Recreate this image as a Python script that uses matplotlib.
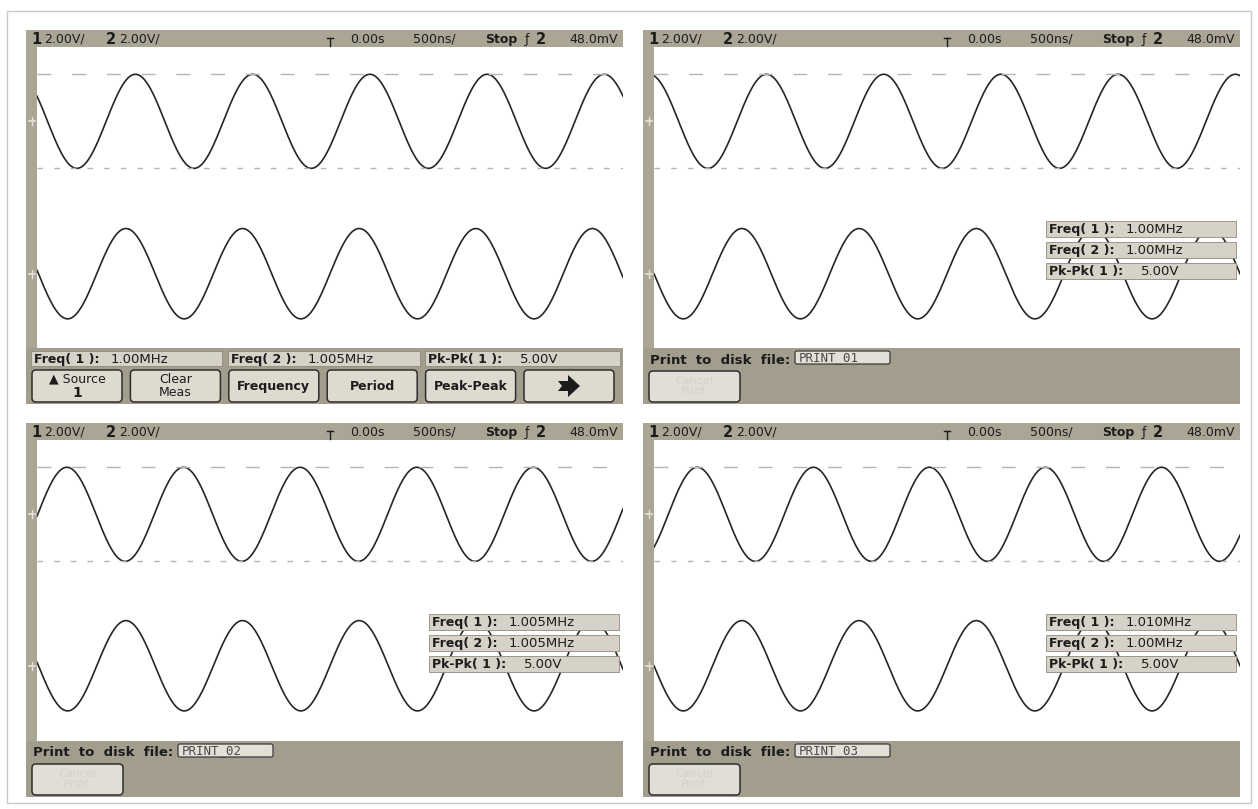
"""Four Agilent-style scope screenshots: two 1 MHz sines, ch1 vs ch2."""

import matplotlib

matplotlib.use("Agg")
import matplotlib.pyplot as plt
import numpy as np
from matplotlib.patches import FancyBboxPatch, Polygon, Rectangle

# --- data read from the four screens (top-left, top-right, bottom-left, bottom-right) ---
CH1_FREQ_MHZ = [1.00, 1.00, 1.005, 1.010]
CH2_FREQ_MHZ = [1.005, 1.00, 1.005, 1.00]
CH1_FREQ_LABELS = ["1.00MHz", "1.00MHz", "1.005MHz", "1.010MHz"]
CH2_FREQ_LABELS = ["1.005MHz", "1.00MHz", "1.005MHz", "1.00MHz"]
CH1_PKPK_LABELS = ["5.00V", "5.00V", "5.00V", "5.00V"]
CH1_PKPK_V = [5.00, 5.00, 5.00, 5.00]
CH2_PKPK_V = [4.8, 4.8, 4.8, 4.8]
CH1_PEAK_US = [0.34, 0.46, 0.74, 0.84]      # a ch1 maximum, relative to the trigger
CH1_OFFSET_V = [4.05, 4.05, 4.05, 4.05]
CH2_OFFSET_V = [-4.05, -4.05, -4.0, -4.0]
PRINT_FILES = [None, "PRINT_01", "PRINT_02", "PRINT_03"]
SOFTKEYS = ["Source", "Clear\nMeas", "Frequency", "Period", "Peak-Peak", ""]

VOLTS_PER_DIV = 2.0
TIME_PER_DIV_US = 0.5
HEADER_TEXT = ["1", "2.00V/", "2", "2.00V/", "0.00s", "500ns/", "Stop", "ƒ", "2", "48.0mV"]

# --- layout (pixels) ---
W, H = 1258, 809
PANEL_ORIGINS = [(26, 30), (643, 30), (26, 423), (643, 423)]
PANEL_W = 597
HEAD_H = 17
STRIP_W = 11
PLOT_H = 301
BOTTOM_H = 56

HEADER_X = [5, 18, 80, 93, 324, 387, 459, 499, 510, 543]
HEADER_BOLD = [True, False, True, False, False, False, True, False, True, False]

C_BAR = "#aba595"
C_BAR_DARK = "#a39d8e"
C_BOX = "#d6d2c7"
C_KEY = "#dedad0"
C_TEXT = "#1c1c1c"
C_TRACE = "#262626"
C_DASH = "#b4b4b4"
FONT = "DejaVu Sans"


def key(ax, x0, y0, w, h, face=C_KEY):
    ax.add_patch(
        FancyBboxPatch(
            (x0, y0), w, h,
            boxstyle="round,pad=0,rounding_size=4",
            facecolor=face, edgecolor="#2e2e2e", linewidth=1.1, zorder=3,
        )
    )


def label(ax, x, y, s, size=9, bold=False, **kw):
    ax.text(
        x, y, s, fontsize=size, fontweight="bold" if bold else "normal",
        color=kw.pop("color", C_TEXT), family=kw.pop("family", FONT),
        va=kw.pop("va", "center"), ha=kw.pop("ha", "left"), zorder=5, **kw,
    )


def meas_box(ax, x0, y0, w, h, name, chan, value):
    ax.add_patch(Rectangle((x0, y0), w, h, facecolor=C_BOX, edgecolor="#8f8a7e",
                           linewidth=0.6, zorder=4))
    label(ax, x0 + 3, y0 + h / 2 + 0.5, f"{name}( {chan} ):", bold=True)
    shift = 95 if name.startswith("Pk") else 80
    label(ax, x0 + shift, y0 + h / 2 + 0.5, value, size=9.5)


def draw_panel(fig, bg, over, i):
    ox, oy = PANEL_ORIGINS[i]

    # frame chrome
    bg.add_patch(Rectangle((ox, oy), PANEL_W, HEAD_H, facecolor=C_BAR, edgecolor="none"))
    bg.add_patch(Rectangle((ox, oy), STRIP_W, HEAD_H + PLOT_H, facecolor=C_BAR,
                           edgecolor="none"))
    bg.add_patch(Rectangle((ox, oy + HEAD_H + PLOT_H), PANEL_W, BOTTOM_H,
                           facecolor=C_BAR_DARK, edgecolor="none"))

    # header line
    hy = oy + HEAD_H / 2 + 0.5
    for x, s, b in zip(HEADER_X, HEADER_TEXT, HEADER_BOLD):
        label(bg, ox + x, hy, s, size=10.5 if s in ("1", "2") else 9, bold=b)
    tx = ox + 304
    bg.plot([tx - 3, tx + 3], [oy + 8, oy + 8], color=C_TEXT, lw=1.0, zorder=5)
    bg.plot([tx, tx], [oy + 8, oy + 16], color=C_TEXT, lw=1.0, zorder=5)

    # ground markers on the left strip
    for off in (CH1_OFFSET_V[i], CH2_OFFSET_V[i]):
        gy = oy + HEAD_H + PLOT_H / 2 - off / VOLTS_PER_DIV * (PLOT_H / 8)
        bg.plot([ox + 3, ox + 9], [gy, gy], color="#e6e3dc", lw=1.2, zorder=5)
        bg.plot([ox + 6, ox + 6], [gy - 4, gy + 4], color="#e6e3dc", lw=1.0, zorder=5)

    # traces
    ax = fig.add_axes([(ox + STRIP_W) / W, 1 - (oy + HEAD_H + PLOT_H) / H,
                       (PANEL_W - STRIP_W) / W, PLOT_H / H])
    ax.set_zorder(2)
    ax.set_xlim(-5 * TIME_PER_DIV_US, 5 * TIME_PER_DIV_US)
    ax.set_ylim(-4 * VOLTS_PER_DIV, 4 * VOLTS_PER_DIV)
    ax.axis("off")
    t = np.linspace(-2.5, 2.5, 1500)
    ch1 = CH1_OFFSET_V[i] + CH1_PKPK_V[i] / 2 * np.cos(
        2 * np.pi * CH1_FREQ_MHZ[i] * (t - CH1_PEAK_US[i]))
    ch2 = CH2_OFFSET_V[i] + CH2_PKPK_V[i] / 2 * np.sin(2 * np.pi * CH2_FREQ_MHZ[i] * t)
    ax.plot(t, ch1, color=C_TRACE, lw=1.2)
    ax.plot(t, ch2, color=C_TRACE, lw=1.2)
    ax.axhline(CH1_OFFSET_V[i] + CH1_PKPK_V[i] / 2, color=C_DASH, lw=1.0,
               dashes=(10, 15))
    ax.axhline(CH1_OFFSET_V[i] - CH1_PKPK_V[i] / 2, color=C_DASH, lw=1.0,
               dashes=(4, 8))

    by = oy + HEAD_H + PLOT_H
    if PRINT_FILES[i] is None:
        # measurement line and softkeys
        row = [(5, 191), (202, 192), (399, 195)]
        names = [("Freq", "1", CH1_FREQ_LABELS[i]), ("Freq", "2", CH2_FREQ_LABELS[i]),
                 ("Pk-Pk", "1", CH1_PKPK_LABELS[i])]
        for (x0, w), (n, c, v) in zip(row, names):
            meas_box(bg, ox + x0, by + 3, w, 15, n, c, v)
        for k, s in enumerate(SOFTKEYS):
            kx = ox + 6 + 98.4 * k
            key(bg, kx, by + 22, 90, 32)
            cx, cy = kx + 45, by + 38
            if k == 0:
                label(bg, cx, cy - 7, "▲ Source", ha="center")
                label(bg, cx, cy + 7, "1", size=10, bold=True, ha="center")
                bg.plot([cx - 3, cx + 3], [cy + 14, cy + 14], color=C_TEXT, lw=1.2)
            elif k == 5:
                bg.add_patch(Polygon(
                    [(cx - 11, cy - 5), (cx - 1, cy - 5), (cx - 1, cy - 11), (cx + 11, cy),
                     (cx - 1, cy + 11), (cx - 1, cy + 5), (cx - 11, cy + 5), (cx - 7, cy)],
                    closed=True, facecolor=C_TEXT, edgecolor="none", zorder=5))
            else:
                label(bg, cx, cy, s, ha="center", linespacing=0.95,
                      bold=(k >= 2))
    else:
        label(bg, ox + 7, by + 12, "Print  to  disk  file:", size=9.5, bold=True)
        bg.add_patch(FancyBboxPatch(
            (ox + 152, by + 3), 95, 13, boxstyle="round,pad=0,rounding_size=2",
            facecolor="#e3e0d8", edgecolor="#3a3a3a", linewidth=0.9, zorder=3))
        label(bg, ox + 156, by + 10, PRINT_FILES[i], size=9, family="DejaVu Sans Mono",
              color="#4a4a4a")
        key(bg, ox + 6, by + 23, 91, 31, face="#e1ded6")
        label(bg, ox + 51, by + 38, "Cancel\nPrint", size=8, ha="center",
              color="#d4d1c9", linespacing=0.95)

        # measurements overlaid on the screen
        names = [("Freq", "1", CH1_FREQ_LABELS[i]), ("Freq", "2", CH2_FREQ_LABELS[i]),
                 ("Pk-Pk", "1", CH1_PKPK_LABELS[i])]
        for r, (n, c, v) in enumerate(names):
            meas_box(over, ox + 403, oy + 191 + 21 * r, 190, 16, n, c, v)


def main():
    fig = plt.figure(figsize=(W / 100, H / 100), dpi=100, facecolor="white")
    bg = fig.add_axes([0, 0, 1, 1])
    over = fig.add_axes([0, 0, 1, 1])
    for a, z in ((bg, 1), (over, 3)):
        a.set_xlim(0, W)
        a.set_ylim(H, 0)
        a.axis("off")
        a.set_zorder(z)
    bg.add_patch(Rectangle((7, 11), 1244, 792, facecolor="none", edgecolor="#c9c9c9",
                           linewidth=1.0))

    for i in range(4):
        draw_panel(fig, bg, over, i)

    fig.savefig("out.png", dpi=100, facecolor="white")
    plt.close(fig)


if __name__ == "__main__":
    main()
